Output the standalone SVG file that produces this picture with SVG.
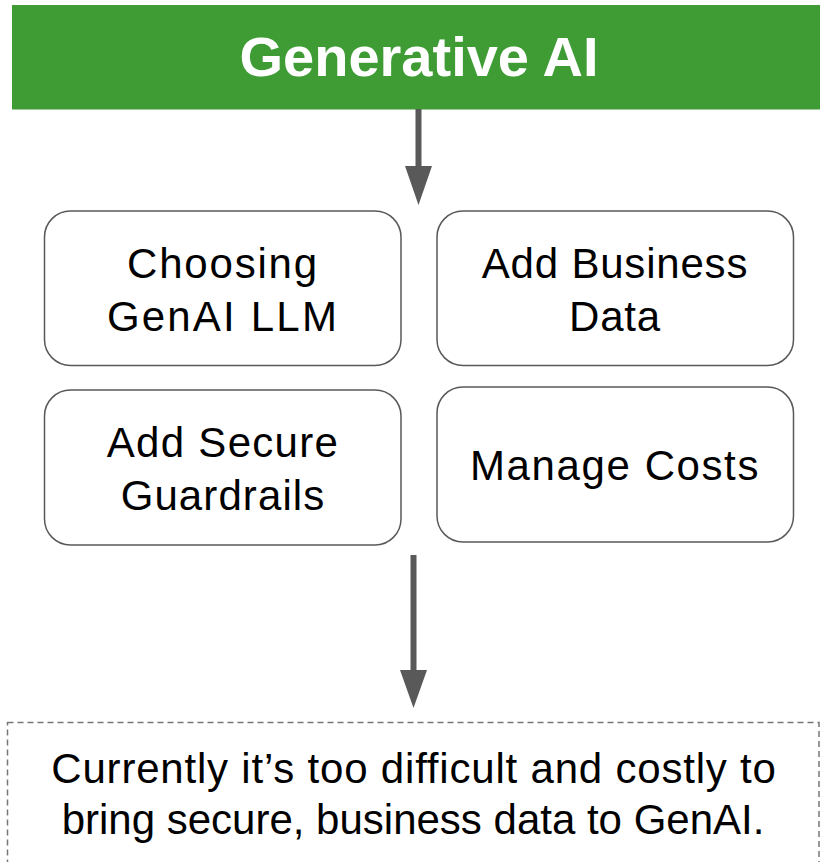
<svg xmlns="http://www.w3.org/2000/svg" width="820" height="862" viewBox="0 0 820 862">
  <defs>
    <style>
      .box { fill: #ffffff; stroke: #595959; stroke-width: 1.5; }
      .lbl { font-family: "Liberation Sans", Arial, sans-serif; font-size: 42px; fill: #000000; text-anchor: middle; letter-spacing: 0.8px; }
      .title { font-family: "Liberation Sans", Arial, sans-serif; font-size: 56px; font-weight: bold; fill: #ffffff; text-anchor: middle; }
      .conn { stroke: #595959; stroke-width: 6; fill: none; }
      .head { fill: #595959; }
    </style>
  </defs>
  <rect x="0" y="0" width="820" height="862" fill="#ffffff"/>

  <g id="header">
    <rect x="12" y="5" width="810" height="104.5" fill="#3f9c35"/>
    <text class="title" x="419" y="76">Generative AI</text>
  </g>

  <g id="connectors">
    <line class="conn" x1="418.5" y1="109" x2="418.5" y2="168"/>
    <polygon class="head" points="405,166 432,166 418.5,205"/>
    <line class="conn" x1="413.5" y1="555" x2="413.5" y2="672"/>
    <polygon class="head" points="400,670 427,670 413.5,708"/>
  </g>

  <g id="node-choosing">
    <rect class="box" x="44.5" y="211" width="356.5" height="154.5" rx="26"/>
    <text class="lbl" x="223" y="278" style="letter-spacing:1.8px">Choosing</text>
    <text class="lbl" x="223" y="331" style="letter-spacing:2.2px">GenAI LLM</text>
  </g>

  <g id="node-business-data">
    <rect class="box" x="437" y="211" width="356.5" height="154.5" rx="26"/>
    <text class="lbl" x="615" y="278">Add Business</text>
    <text class="lbl" x="615" y="331">Data</text>
  </g>

  <g id="node-guardrails">
    <rect class="box" x="44.5" y="390" width="356.5" height="155" rx="26"/>
    <text class="lbl" x="223" y="457" style="letter-spacing:1.3px">Add Secure</text>
    <text class="lbl" x="223" y="510" style="letter-spacing:1.1px">Guardrails</text>
  </g>

  <g id="node-costs">
    <rect class="box" x="437" y="387" width="356.5" height="155" rx="26"/>
    <text class="lbl" x="615" y="480" style="letter-spacing:1.6px">Manage Costs</text>
  </g>

  <g id="note">
    <rect x="7.5" y="722.5" width="811.5" height="160" fill="none" stroke="#777777" stroke-width="1.5" stroke-dasharray="6 4"/>
    <text class="lbl" x="414" y="783">Currently it’s too difficult and costly to</text>
    <text class="lbl" x="413" y="834" style="letter-spacing:0px">bring secure, business data to GenAI.</text>
  </g>
</svg>
